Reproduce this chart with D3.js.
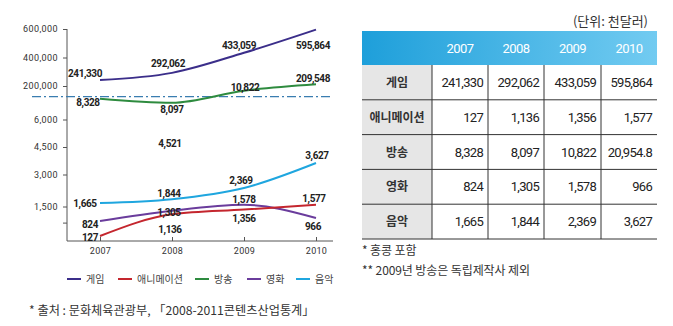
<!DOCTYPE html>
<html><head><meta charset="utf-8">
<script src="https://cdn.jsdelivr.net/npm/d3@7/dist/d3.min.js"></script>
<style>
body{margin:0;background:#fff;}
svg text{font-family:Roboto,"Noto Sans CJK KR",sans-serif;}
.kr{font-family:"Noto Sans CJK KR","Noto Sans",sans-serif !important;}
</style></head>
<body><svg id="c" width="673" height="326"></svg>
<script>
// ---------- data ----------
const years = ["2007","2008","2009","2010"];
const seriesNames = ["게임","애니메이션","방송","영화","음악"];
const game = [241330, 292062, 433059, 595864];
const animation = [127, 1136, 1356, 1577];
const broadcastChart = [8328, 8097, 10822, 209548];
const broadcastTable = [8328, 8097, 10822, 20954.8];
const film = [824, 1305, 1578, 966];
const music = [1665, 1844, 2369, 3627];
const topTicks = [600000, 400000, 200000];
const lowTicks = [6000, 4500, 3000, 1500, 750];
const lowTickLabels = ["6,000","4,500","3,000","1,500",""];
const strayLabel = {year:"2008", value:4521};
const unitText = "(단위: 천달러)";
const footnotes = ["* 홍콩 포함","** 2009년 방송은 독립제작사 제외"];
const sourceText = "* 출처 : 문화체육관광부, 「2008-2011콘텐츠산업통계」";

// ---------- layout / style ----------
const colors = {"게임":"#3b2e8a","애니메이션":"#c4262e","방송":"#2e8b3f","영화":"#6a3c9c","음악":"#1fa6df"};
const svg = d3.select("#c");
const x = d3.scalePoint().domain(years).range([100,316]);
const yTop = d3.scaleLinear().domain([200000,600000]).range([86,29]);
const yLow = d3.scaleLinear().domain([0,1500,3000,6000]).range([238.7,206.5,174.5,119.5]);
const yMid = d3.scaleLinear().domain([8000,8400,11000,210000]).range([104.4,97.45,90.2,84.3]);

// label offsets [dx, dy] per point (layout only)
const offs = {
 "게임":[[-15,-3],[-4,-6],[-5,-4],[-3,19]],
 "방송":[[-12,7.5],[0,10],[1,0],[-3,-2]],
 "음악":[[-15,4.5],[-3,-2.2],[-3,-4],[1,-4]],
 "영화":[[-10,7],[-3,5.8],[0,-1.8],[-3,12]],
 "애니메이션":[[-10,5],[-2,18.7],[0,12.4],[-2,-2.4]]
};
const series = [
 {name:"게임", values:game, y:yTop},
 {name:"방송", values:broadcastChart, y:yMid},
 {name:"음악", values:music, y:yLow},
 {name:"영화", values:film, y:yLow},
 {name:"애니메이션", values:animation, y:yLow}
];
const fmt = d3.format(",");

// axes
const axisColor = "#555";
const axX = 67, axBottom = 241, axRight = 333;
const gy1 = svg.append("g").attr("transform",`translate(${axX},0)`)
 .call(d3.axisLeft(yTop).tickValues(topTicks).tickSize(4).tickPadding(5).tickFormat(fmt));
const gy2 = svg.append("g").attr("transform",`translate(${axX},0)`)
 .call(d3.axisLeft(yLow).tickValues(lowTicks).tickSize(4).tickPadding(5).tickFormat((d,i)=>lowTickLabels[i]));
[gy1,gy2].forEach(g=>{g.select(".domain").remove();
 g.selectAll("line").attr("stroke",axisColor);
 g.selectAll("text").attr("font-size",9).attr("fill","#333").attr("letter-spacing",0.4);});
svg.append("line").attr("x1",axX).attr("x2",axX).attr("y1",yTop(600000)).attr("y2",axBottom).attr("stroke",axisColor);
const gx = svg.append("g").attr("transform",`translate(0,${axBottom})`)
 .call(d3.axisBottom(x).tickSize(-4).tickPadding(7));
gx.select(".domain").remove();
gx.selectAll("line").attr("stroke",axisColor);
gx.selectAll("text").attr("font-size",9).attr("fill","#333").attr("letter-spacing",0.3);
svg.append("line").attr("x1",axX).attr("x2",axRight).attr("y1",axBottom).attr("y2",axBottom).attr("stroke",axisColor);

// break line
svg.append("line").attr("x1",32).attr("x2",331).attr("y1",96.7).attr("y2",96.7)
 .attr("stroke","#3a7db0").attr("stroke-width",1.2).attr("stroke-dasharray","9,3,2,3");

// lines
series.forEach(s=>{
 const line = d3.line().x((d,i)=>x(years[i])).y(d=>s.y(d)).curve(d3.curveMonotoneX);
 svg.append("path").datum(s.values).attr("d",line).attr("fill","none")
  .attr("stroke",colors[s.name]).attr("stroke-width",2);
});
// labels
series.forEach(s=>{
 s.values.forEach((v,i)=>{
  const o = offs[s.name][i];
  svg.append("text").attr("x",x(years[i])+o[0]).attr("y",s.y(v)+o[1])
   .attr("text-anchor","middle").attr("font-size",10).attr("font-weight","bold")
   .attr("letter-spacing",-0.4).attr("fill","#222").text(fmt(v));
 });
});
svg.append("text").attr("x",x(strayLabel.year)-2).attr("y",yLow(strayLabel.value)+0.5)
 .attr("text-anchor","middle").attr("font-size",10).attr("font-weight","bold")
 .attr("letter-spacing",-0.4).attr("fill","#222").text(fmt(strayLabel.value));

// legend
const legX = [67,118,195,247,296];
seriesNames.forEach((n,i)=>{
 svg.append("line").attr("x1",legX[i]).attr("x2",legX[i]+14).attr("y1",279).attr("y2",279)
  .attr("stroke",colors[n]).attr("stroke-width",2);
 svg.append("text").attr("class","kr").attr("x",legX[i]+19).attr("y",283)
  .attr("font-size",10).attr("fill","#444").text(n);
});
// source
svg.append("text").attr("class","kr").attr("x",29).attr("y",315).attr("font-size",12.2)
 .attr("fill","#333").text(sourceText);

// ---------- table ----------
const tblRows = [
 {name:"게임", values:game},
 {name:"애니메이션", values:animation},
 {name:"방송", values:broadcastTable},
 {name:"영화", values:film},
 {name:"음악", values:music}
];
const colEdges = [362,432,488,544,601,657];
const hdrTop = 31, hdrBot = 65, rowH = 34.8;
const defs = svg.append("defs");
const gr = defs.append("linearGradient").attr("id","hg");
gr.append("stop").attr("offset","0%").attr("stop-color","#1e9fda");
gr.append("stop").attr("offset","100%").attr("stop-color","#72cbf1");
svg.append("rect").attr("x",colEdges[0]).attr("y",hdrTop).attr("width",colEdges[5]-colEdges[0])
 .attr("height",hdrBot-hdrTop).attr("fill","url(#hg)");
years.forEach((yv,i)=>{
 svg.append("text").attr("x",(colEdges[i+1]+colEdges[i+2])/2).attr("y",(hdrTop+hdrBot)/2+4.5)
  .attr("text-anchor","middle").attr("font-size",13).attr("fill","#fff").attr("letter-spacing",-0.6).text(yv);
});
const tblBot = hdrBot+rowH*tblRows.length;
svg.append("rect").attr("x",colEdges[0]).attr("y",hdrBot).attr("width",colEdges[1]-colEdges[0])
 .attr("height",tblBot-hdrBot).attr("fill","#e6e6e6");
tblRows.forEach((r,ri)=>{
 const yc = hdrBot+rowH*ri+rowH/2;
 svg.append("text").attr("class","kr").attr("x",(colEdges[0]+colEdges[1])/2).attr("y",yc+4.5)
  .attr("text-anchor","middle").attr("font-size",12).attr("font-weight","bold").attr("fill","#333").text(r.name);
 r.values.forEach((v,i)=>{
  svg.append("text").attr("x",colEdges[i+2]-5).attr("y",yc+4.5).attr("text-anchor","end")
   .attr("font-size",13).attr("fill","#222").attr("letter-spacing",-0.7).text(fmt(v));
 });
 svg.append("line").attr("x1",colEdges[0]).attr("x2",colEdges[5])
  .attr("y1",hdrBot+rowH*(ri+1)).attr("y2",hdrBot+rowH*(ri+1)).attr("stroke","#333").attr("stroke-width",1);
});
for(let i=1;i<5;i++){
 svg.append("line").attr("x1",colEdges[i]).attr("x2",colEdges[i]).attr("y1",hdrBot).attr("y2",tblBot)
  .attr("stroke","#333").attr("stroke-width",1);
}
svg.append("text").attr("class","kr").attr("x",648).attr("y",26).attr("text-anchor","end")
 .attr("font-size",13).attr("fill","#333").text(unitText);
footnotes.forEach((f,i)=>{
 svg.append("text").attr("class","kr").attr("x",362).attr("y",255+i*20).attr("font-size",12)
  .attr("fill","#333").attr("letter-spacing",-0.1).text(f);
});
</script></body></html>
